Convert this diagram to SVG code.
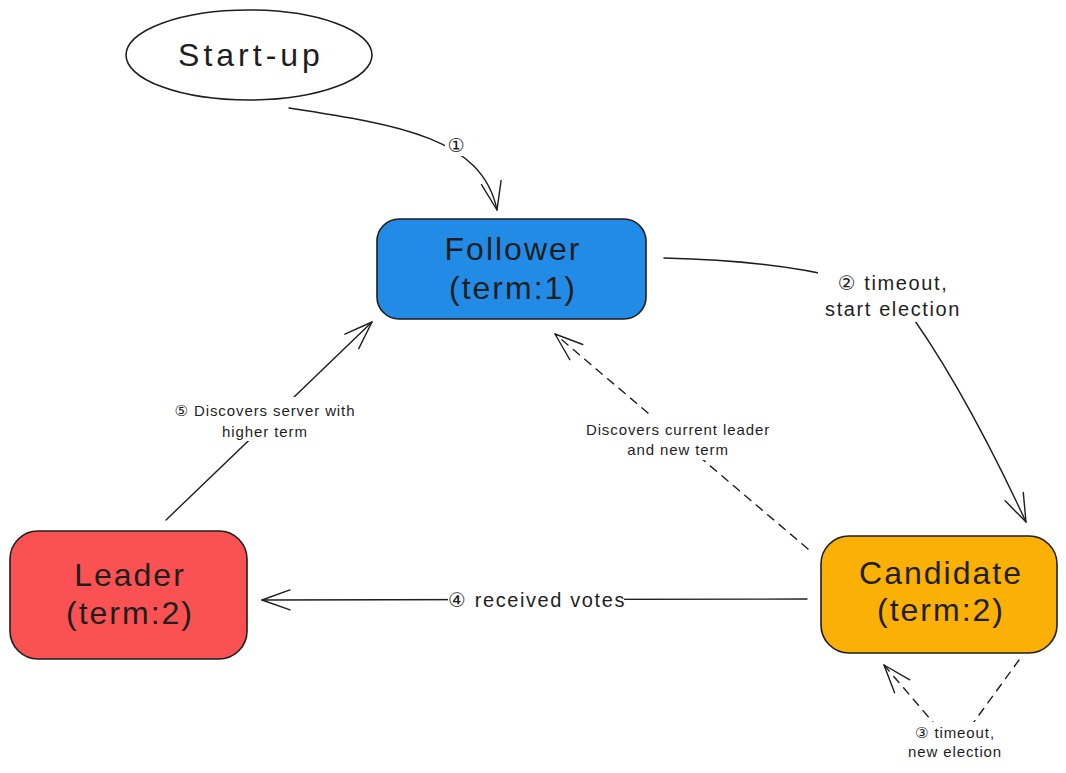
<svg xmlns="http://www.w3.org/2000/svg" width="1066" height="773" viewBox="0 0 1066 773">
  <style>
    .node { stroke: #1e1e1e; stroke-width: 1.6; }
    .ntext { font-family: "Liberation Sans", "DejaVu Sans", sans-serif; font-size: 32px; letter-spacing: 2px; fill: #1e1e1e; text-anchor: middle; }
    .conn { fill: none; stroke: #1e1e1e; stroke-width: 1.4; stroke-linecap: round; }
    .dash { stroke-dasharray: 8 7; }
    .lbg { fill: #ffffff; stroke: none; }
    .lbl { font-family: "Liberation Sans", "DejaVu Sans", sans-serif; fill: #1e1e1e; text-anchor: middle; }
    .lbig { font-size: 20px; letter-spacing: 1.6px; }
    .lsmall { font-size: 15px; letter-spacing: 0.9px; }
  </style>
  <defs>
    <marker id="arrow" markerUnits="userSpaceOnUse" markerWidth="32" markerHeight="24" refX="29" refY="11" orient="auto">
      <path d="M1,1 L29,11 L1,21" fill="none" stroke="#1e1e1e" stroke-width="1.4" stroke-linecap="round" stroke-linejoin="round"/>
    </marker>
  </defs>
  <rect width="1066" height="773" fill="#ffffff"/>

  <g id="connectors">
    <path class="conn" d="M289,108 C400,125 482,138 497,210" marker-end="url(#arrow)"/>
    <path class="conn" d="M664,258 Q830,262 900,300 Q960,380 1026,522" marker-end="url(#arrow)"/>
    <path class="conn dash" d="M808,549 L555,334" marker-end="url(#arrow)"/>
    <path class="conn" d="M807,599 L262,600" marker-end="url(#arrow)"/>
    <path class="conn" d="M166,520 L372,322" marker-end="url(#arrow)"/>
    <path class="conn dash" d="M1019,660 L955,748 L884,665" marker-end="url(#arrow)"/>

    <rect class="lbg" x="445" y="134" width="22" height="22"/>
    <text class="lbl" x="456" y="152" font-size="19">①</text>

    <rect class="lbg" x="818" y="268" width="150" height="54"/>
    <text class="lbl lbig" x="893" y="290">② timeout,</text>
    <text class="lbl lbig" x="893" y="316">start election</text>

    <rect class="lbg" x="576" y="416" width="204" height="44"/>
    <text class="lbl lsmall" x="678" y="435">Discovers current leader</text>
    <text class="lbl lsmall" x="678" y="455">and new term</text>

    <rect class="lbg" x="448" y="586" width="176" height="28"/>
    <text class="lbl lbig" x="537" y="607">④ received votes</text>

    <rect class="lbg" x="166" y="397" width="198" height="44"/>
    <text class="lbl lsmall" x="265" y="416">⑤ Discovers server with</text>
    <text class="lbl lsmall" x="265" y="437">higher term</text>

    <rect class="lbg" x="906" y="722" width="100" height="44"/>
    <text class="lbl lsmall" x="955" y="738">③ timeout,</text>
    <text class="lbl lsmall" x="955" y="757">new election</text>
  </g>

  <g id="startup">
    <ellipse class="node" cx="249" cy="55" rx="123" ry="45" fill="#ffffff"/>
    <text class="ntext" x="251" y="66" style="letter-spacing:4px">Start-up</text>
  </g>

  <g id="follower">
    <rect class="node" x="377" y="219" width="269" height="100" rx="22" fill="#228be6"/>
    <text class="ntext" x="513" y="260">Follower</text>
    <text class="ntext" x="513" y="299">(term:1)</text>
  </g>

  <g id="leader">
    <rect class="node" x="10" y="531" width="237" height="128" rx="28" fill="#fa5252"/>
    <text class="ntext" x="130" y="586">Leader</text>
    <text class="ntext" x="130" y="624">(term:2)</text>
  </g>

  <g id="candidate">
    <rect class="node" x="821" y="536" width="236" height="117" rx="28" fill="#fab005"/>
    <text class="ntext" x="941" y="584">Candidate</text>
    <text class="ntext" x="941" y="621">(term:2)</text>
  </g>
</svg>
